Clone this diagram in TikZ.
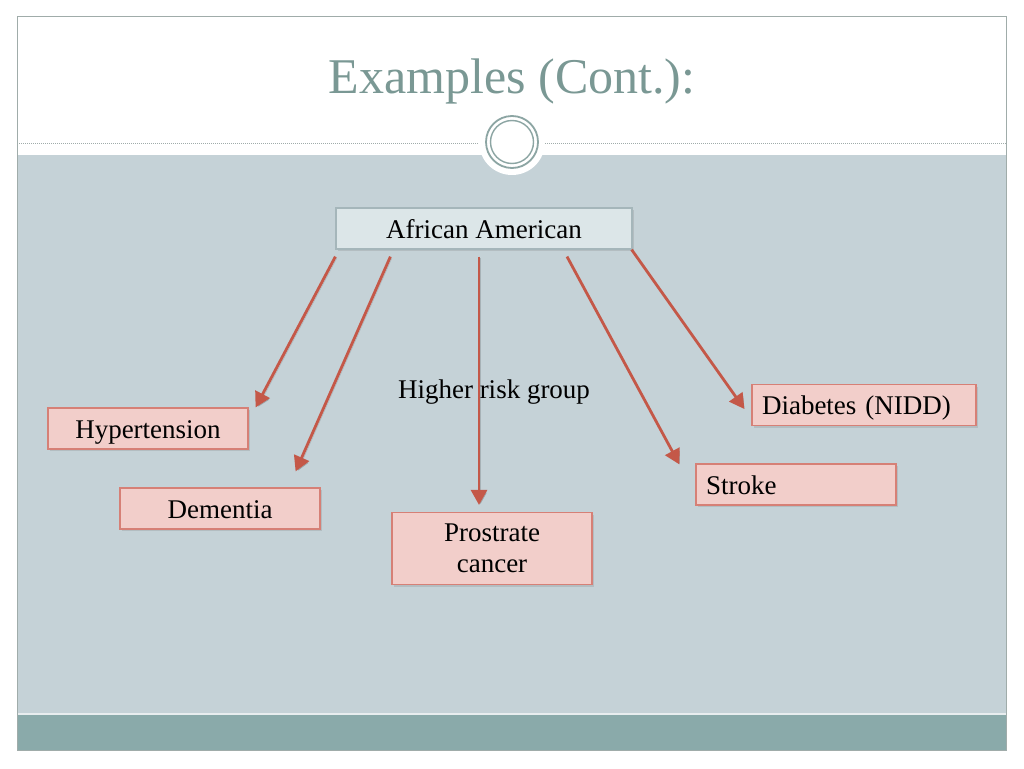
\documentclass[tikz,border=0pt]{standalone}
\usepackage{fontspec}
\setmainfont{Liberation Serif}
\usetikzlibrary{arrows.meta,calc,positioning,shadows}
\definecolor{slidebg}{RGB}{197,210,215}
\definecolor{barteal}{RGB}{138,170,170}
\definecolor{titleteal}{RGB}{122,152,148}
\definecolor{framegray}{RGB}{160,172,170}
\definecolor{ringteal}{RGB}{140,165,163}
\definecolor{pinkfill}{RGB}{242,206,202}
\definecolor{pinkline}{RGB}{214,128,118}
\definecolor{topfill}{RGB}{220,230,232}
\definecolor{topline}{RGB}{165,182,186}
\definecolor{arrowred}{RGB}{196,88,72}
\tikzset{
    boxfont/.style={font=\fontsize{27}{31}\selectfont,text height=20pt,text depth=1pt},
    riskbox/.style={draw=pinkline,fill=pinkfill,line width=1.2pt,minimum width=200pt,
        minimum height=41pt,inner sep=0pt,boxfont,
        drop shadow={shadow xshift=2pt,shadow yshift=-2pt,opacity=0.25}},
    leftbox/.style={riskbox,inner xsep=10pt,align=left},
    topbox/.style={riskbox,draw=topline,fill=topfill,minimum width=296pt},
    riskarrow/.style={draw=arrowred,line width=2.8pt,-{Triangle[width=16pt,length=15pt]},
        preaction={draw=black,opacity=0.15,transform canvas={shift={(1.5pt,-1.5pt)}}}}
}

\begin{document}
\begin{tikzpicture}[x=1pt,y=-1pt]
  \useasboundingbox (0,0) rectangle (1024,768);
  \fill[white] (0,0) rectangle (1024,768);

  % slide background
  \fill[slidebg] (17,155) rectangle (1006,715);
  \fill[barteal] (17,715) rectangle (1006,750);
  \draw[white!60!slidebg,line width=1.5pt] (17,714) -- (1006,714);
  \draw[framegray,line width=1pt] (17,17) rectangle (1006,750);
  \draw[framegray,line width=0.8pt,dash pattern=on 1pt off 1pt] (17,143) -- (1006,143);
  \fill[white] (512,142) circle (33);
  \draw[ringteal,line width=1.8pt] (512,142) circle (26);
  \draw[ringteal,line width=1.4pt] (512,142) circle (21.5);

  \node[text=titleteal,font=\fontsize{50}{56}\selectfont] (title) at (512,81) {Examples (Cont.):};

  % boxes
  \node[topbox] (aa) at (484,228.5) {African American};
  \node[riskbox] (hyp) at (148,428.5) {Hypertension};
  \node[riskbox] (dem) at (220,508.5) {Dementia};
  \node[riskbox,minimum height=72pt,align=center,text height=,text depth=] (pc) at (492,548.5) {Prostrate\\cancer};
  \node[leftbox,text width=180pt] (stroke) at (796,484.5) {Stroke};
  \node[leftbox,text width=204pt] (dia) at (864,405) {Diabetes (NIDD)};

  % arrow ends
  \coordinate (s1) at ($(aa.south west)+(0,7)$);
  \coordinate (s2) at ($(aa.south west)+(55,7)$);
  \coordinate (s3) at ($(aa.south)+(-5,7)$);
  \coordinate (s4) at ($(aa.south)+(83,7)$);
  \coordinate (s5) at ($(aa.south east)+(-1,0)$);
  \coordinate (e1) at ($(hyp.north east)+(7,0)$);
  \coordinate (e2) at ($(dem.north east)+(-25,-16)$);
  \coordinate (e3) at ($(pc.north)+(-13,-7)$);
  \coordinate (e4) at ($(stroke.north west)+(-16,1)$);
  \coordinate (e5) at ($(dia.west)+(-7,4)$);

  \foreach \i in {1,...,5}{
    \draw[riskarrow] (s\i) -- (e\i);
  }

  \node[boxfont] (risk) at (494,389) {Higher risk group};
\end{tikzpicture}
\end{document}
